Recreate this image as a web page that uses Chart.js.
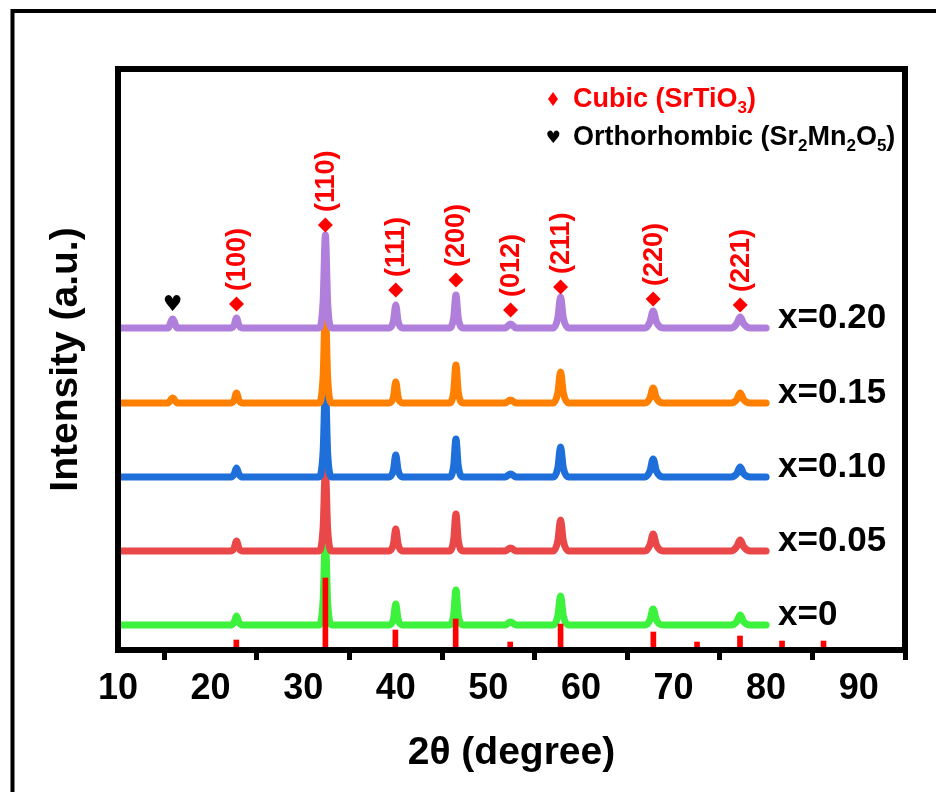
<!DOCTYPE html>
<html>
<head>
<meta charset="utf-8">
<script src="https://cdn.jsdelivr.net/npm/chart.js@4.4.1/dist/chart.umd.min.js"></script>
<style>
  html, body { margin: 0; padding: 0; background: #fff; }
  #wrap { width: 936px; height: 792px; }
</style>
</head>
<body>
<div id="wrap"><canvas id="xrd"></canvas></div>
<script>
// 2theta sampling points shared by all patterns
var twoTheta = [10,
  15.4, 15.9, 16.4,
  22.2, 22.55, 22.8, 23.05, 23.4,
  31.7, 32.15, 32.4, 32.65, 33.1,
  39.3, 39.75, 40.0, 40.25, 40.7,
  45.8, 46.25, 46.5, 46.75, 47.3,
  51.8, 52.4, 53.0,
  57.0, 57.5, 57.8, 58.1, 58.7,
  66.9, 67.45, 67.8, 68.15, 68.9,
  76.2, 76.8, 77.2, 77.6, 78.3,
  80];

// intensities above each pattern's own baseline
var int000 = [0, 0,0,0, 0,3,9,3,0, 0,24,86,22,0, 0,6,21,6,0, 0,10,35,10,0, 0,3,0, 0,9,29,9,0, 0,5,16,5,0, 0,3,10,3,0, 0];
var int005 = [0, 0,0,0, 0,3,10,3,0, 0,23,82,21,0, 0,7,22,7,0, 0,11,37,11,0, 0,3,0, 0,10,31,10,0, 0,6,17,6,0, 0,4,11,4,0, 0];
var int010 = [0, 0,0,0, 0,3,9,3,0, 0,25,89,23,0, 0,7,22,7,0, 0,11,38,11,0, 0,3,0, 0,9,30,9,0, 0,6,18,6,0, 0,3,10,3,0, 0];
var int015 = [0, 0,5,0, 0,3,10,3,0, 0,26,93,24,0, 0,6,21,6,0, 0,11,38,11,0, 0,3,0, 0,10,31,10,0, 0,5,15,5,0, 0,3,10,3,0, 0];
var int020 = [0, 0,9,0, 0,3,10,3,0, 0,26,93,24,0, 0,7,23,7,0, 0,10,33,10,0, 0,4,0, 0,10,31,10,0, 0,6,17,6,0, 0,4,11,4,0, 0];

var sampleNames = ['x=0', 'x=0.05', 'x=0.10', 'x=0.15', 'x=0.20'];
var sampleInts = [int000, int005, int010, int015, int020];
var offsets = [25, 99, 173, 247, 322];
var colors = ['#3df23d', '#ea4848', '#1e6fd9', '#ff8000', '#b07fdc'];

// SrTiO3 reference pattern (sticks)
var refPos = [22.78, 32.40, 39.96, 46.47, 52.36, 57.80, 67.82, 72.54, 77.18, 81.72, 86.20];
var refInt = [10, 72, 20, 31, 8, 26, 18, 8, 14, 9, 9];

// indexed cubic reflections marked on the top pattern
var hkl = ['(100)', '(110)', '(111)', '(200)', '(012)', '(211)', '(220)', '(221)'];
var hklPos = [22.8, 32.4, 40.0, 46.5, 52.4, 57.8, 67.8, 77.2];
var hklMark = [346, 425, 360, 370, 340, 363, 351, 345];

// Sr2Mn2O5 reflection
var orthoPos = [15.9];
var orthoMark = [345];

var xTicks = [10, 20, 30, 40, 50, 60, 70, 80, 90];

var FONT = "'Liberation Sans', Arial, sans-serif";

function richText(ctx, parts, x, y, size) {
  for (var i = 0; i < parts.length; i++) {
    var sub = parts[i][1];
    ctx.font = 'bold ' + (sub ? Math.round(size * 0.64) : size) + 'px ' + FONT;
    ctx.fillText(parts[i][0], x, sub ? y + size * 0.3 : y);
    x += ctx.measureText(parts[i][0]).width;
  }
}

var decor = {
  id: 'decor',
  beforeDraw: function(chart) {
    var ctx = chart.ctx;
    ctx.save();
    ctx.fillStyle = '#fff';
    ctx.fillRect(0, 0, chart.width, chart.height);
    ctx.restore();
  },
  afterDatasetsDraw: function(chart) {
    var ctx = chart.ctx, xs = chart.scales.x, ys = chart.scales.y, a = chart.chartArea;
    var i;
    ctx.save();

    ctx.strokeStyle = '#000';
    ctx.lineWidth = 6;
    ctx.strokeRect(a.left, a.top, a.right - a.left, a.bottom - a.top);
    // page border, open at right and bottom
    ctx.lineWidth = 4;
    ctx.beginPath();
    ctx.moveTo(12.5, chart.height);
    ctx.lineTo(12.5, 11);
    ctx.lineTo(chart.width, 11);
    ctx.stroke();

    // hkl labels
    ctx.fillStyle = '#f00';
    ctx.font = 'bold 27px ' + FONT;
    ctx.textAlign = 'left';
    ctx.textBaseline = 'middle';
    for (i = 0; i < hkl.length; i++) {
      ctx.save();
      ctx.translate(xs.getPixelForValue(hklPos[i]) + 1, ys.getPixelForValue(hklMark[i]) - 13);
      ctx.rotate(-Math.PI / 2);
      ctx.fillText(hkl[i], 0, 0);
      ctx.restore();
    }

    // heart marks
    ctx.fillStyle = '#000';
    ctx.textAlign = 'center';
    ctx.font = '22px "DejaVu Sans"';
    for (i = 0; i < orthoPos.length; i++) {
      ctx.fillText('\u2665', xs.getPixelForValue(orthoPos[i]), ys.getPixelForValue(orthoMark[i]));
    }

    // sample names at the end of each pattern
    ctx.textAlign = 'left';
    ctx.font = 'bold 35px ' + FONT;
    for (i = 0; i < sampleNames.length; i++) {
      ctx.fillText(sampleNames[i], xs.getPixelForValue(80) + 12, ys.getPixelForValue(offsets[i]) - 10);
    }

    // phase key
    ctx.fillStyle = '#f00';
    ctx.beginPath();
    ctx.moveTo(553, 92); ctx.lineTo(558, 99); ctx.lineTo(553, 106); ctx.lineTo(548, 99);
    ctx.closePath();
    ctx.fill();
    richText(ctx, [['Cubic (SrTiO', false], ['3', true], [')', false]], 573, 100, 27);
    ctx.fillStyle = '#000';
    ctx.textAlign = 'center';
    ctx.font = '17px "DejaVu Sans"';
    ctx.fillText('\u2665', 553, 139);
    ctx.textAlign = 'left';
    richText(ctx, [['Orthorhombic (Sr', false], ['2', true], ['Mn', false], ['2', true], ['O', false], ['5', true], [')', false]], 573, 138, 27);

    ctx.restore();
  }
};

var datasets = [];
datasets.push({
  type: 'scatter',
  data: hklPos.map(function(p, i) { return {x: p, y: hklMark[i]}; }),
  pointStyle: 'rectRot',
  pointRadius: 7.5,
  backgroundColor: '#f00',
  borderWidth: 0,
  order: 0
});
datasets.push({
  type: 'bar',
  data: refPos.map(function(p, i) { return {x: p, y: refInt[i]}; }),
  backgroundColor: '#f00',
  barThickness: 5,
  grouped: false,
  order: 1
});
for (var s = 0; s < sampleNames.length; s++) {
  datasets.push({
    type: 'line',
    label: sampleNames[s],
    data: twoTheta.map(function(t, j) { return {x: t, y: offsets[s] + sampleInts[s][j]}; }),
    borderColor: colors[s],
    borderWidth: 7,
    pointRadius: 0,
    fill: false,
    cubicInterpolationMode: 'monotone',
    borderJoinStyle: 'round',
    borderCapStyle: 'round',
    order: 10 - s
  });
}

new Chart('xrd', {
  type: 'line',
  data: { datasets: datasets },
  options: {
    responsive: true,
    maintainAspectRatio: false,
    animation: false,
    layout: { padding: { left: 10, top: 69, right: 31, bottom: 10 } },
    plugins: { legend: { display: false }, tooltip: { enabled: false } },
    scales: {
      x: {
        type: 'linear', min: 10, max: 95, offset: false,
        afterBuildTicks: function(scale) {
          scale.ticks = xTicks.map(function(v) { return {value: v}; });
        },
        afterFit: function(scale) { scale.height = 132; },
        ticks: {
          color: '#000', padding: 7, maxRotation: 0, autoSkip: false,
          font: { family: FONT, size: 36, weight: 'bold' }
        },
        grid: { display: true, drawOnChartArea: false, drawTicks: true, tickLength: 10, tickWidth: 5, color: '#000' },
        border: { display: false },
        title: {
          display: true, text: '2\u03b8 (degree)', color: '#000',
          font: { family: FONT, size: 39, weight: 'bold' },
          padding: { top: 11, bottom: 5 }
        }
      },
      y: {
        type: 'linear', min: 0, max: 581,
        afterFit: function(scale) { scale.width = 108; },
        ticks: { display: false },
        grid: { display: false, drawTicks: false },
        border: { display: false },
        title: {
          display: true, text: 'Intensity (a.u.)', color: '#000',
          font: { family: FONT, size: 39, weight: 'bold' },
          padding: { top: 33, bottom: 28 }
        }
      }
    }
  },
  plugins: [decor]
});
</script>
</body>
</html>
